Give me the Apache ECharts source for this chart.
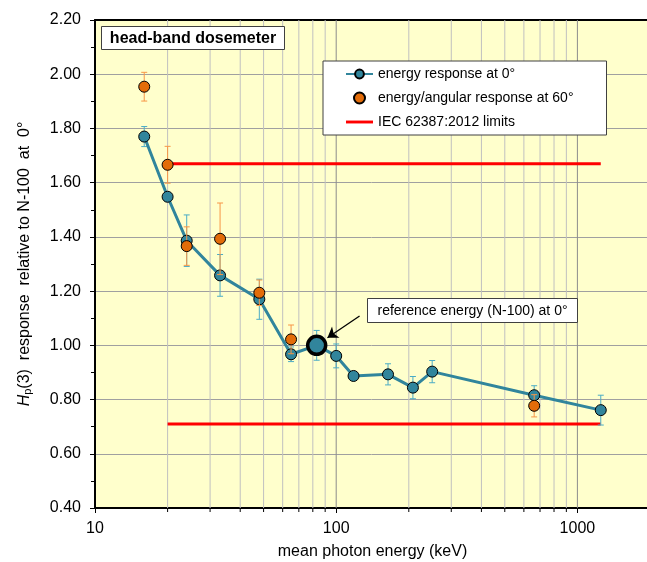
<!DOCTYPE html>
<html><head><meta charset="utf-8">
<script src="https://cdn.jsdelivr.net/npm/echarts@6/dist/echarts.min.js"></script>
<style>html,body{margin:0;padding:0;background:#fff}#c{width:647px;height:562px}</style>
</head><body><div id="c"></div>
<script>
// ---- data ----
const energy0 = [16, 20, 24, 33, 48, 65, 83, 100, 118, 164, 208, 250, 662, 1250];
const response0 = [1.770, 1.548, 1.386, 1.258, 1.170, 0.967, 1.000, 0.961, 0.887, 0.893, 0.844, 0.903, 0.816, 0.761];
const err0 = [0.037, 0.015, 0.095, 0.077, 0.074, 0.027, 0.055, 0.044, 0.015, 0.039, 0.041, 0.041, 0.035, 0.055];
const energy60 = [16, 20, 24, 33, 48, 65, 662];
const response60 = [1.954, 1.666, 1.366, 1.393, 1.194, 1.022, 0.777];
const err60 = [0.053, 0.068, 0.071, 0.132, 0.047, 0.053, 0.041];
const limitEnergies = [20, 1250];
const limitUpper = 1.67;
const limitLower = 0.71;
const refEnergy = 83;
const refLabel = 'reference energy (N-100) at 0°';
const arrowFrom = [125, 1.108];
const arrowTo = [92, 1.028];
const xGridValues = [20, 30, 40, 50, 60, 70, 80, 90, 100, 200, 300, 400, 500, 600, 700, 800, 900, 1000];
const xMajorValues = [10, 100, 1000];
const xMin = 10, xMax = 2000;
const yMin = 0.4, yMax = 2.2, yStep = 0.2;
const seriesNames = ['energy response at 0°', 'energy/angular response at 60°', 'IEC 62387:2012 limits'];

const FONT = '"Liberation Sans", Arial, sans-serif';
const BLUE = '#31859C', BLUE_ERR = '#4BACC6', ORANGE = '#E36C09', ORANGE_ERR = '#F79646';

function errRender(color) {
  return function (params, api) {
    const x = api.value(0);
    const lo = api.coord([x, api.value(1)]);
    const hi = api.coord([x, api.value(2)]);
    const c = 3;
    return {
      type: 'group',
      children: [
        { type: 'line', shape: { x1: lo[0], y1: lo[1], x2: hi[0], y2: hi[1] }, style: { stroke: color, lineWidth: 1 } },
        { type: 'line', shape: { x1: lo[0] - c, y1: lo[1], x2: lo[0] + c, y2: lo[1] }, style: { stroke: color, lineWidth: 1 } },
        { type: 'line', shape: { x1: hi[0] - c, y1: hi[1], x2: hi[0] + c, y2: hi[1] }, style: { stroke: color, lineWidth: 1 } }
      ]
    };
  };
}

const chart = echarts.init(document.getElementById('c'), null, { renderer: 'canvas' });
chart.setOption({
  animation: false,
  textStyle: { fontFamily: FONT },
  grid: { left: 95, top: 20, width: 555, height: 488, show: true, backgroundColor: '#FFFFCC', borderWidth: 0, containLabel: false, outerBoundsMode: 'none' },
  legend: {
    orient: 'vertical', left: 323, top: 61, z: 20,
    data: [
      { name: seriesNames[0] },
      { name: seriesNames[1] },
      { name: seriesNames[2], icon: 'path://M0,0H28V3H0Z' }
    ],
    backgroundColor: '#fff', borderColor: '#404040', borderWidth: 1,
    padding: [6, 33, 6, 22], itemGap: 10, itemWidth: 27, itemHeight: 11,
    textStyle: { fontSize: 14, color: '#000', fontFamily: FONT },
    selectedMode: false
  },
  xAxis: [{
    type: 'log', logBase: 10, min: xMin, max: xMax,
    name: 'mean photon energy (keV)', nameLocation: 'middle', nameGap: 36,
    nameTextStyle: { fontSize: 16, color: '#000', fontFamily: FONT },
    axisLine: { show: true, onZero: false, lineStyle: { color: '#000', width: 2 } },
    axisTick: { show: true, length: 5, lineStyle: { color: '#000' } },
    axisLabel: {
      fontSize: 16, color: '#000', margin: 13, fontFamily: FONT,
      formatter: v => (xMajorValues.indexOf(Math.round(v)) >= 0 ? String(Math.round(v)) : '')
    },
    splitLine: { show: false }
  }, {
    type: 'log', logBase: 10, min: xMin, max: xMax, position: 'top',
    axisLine: { show: true, onZero: false, lineStyle: { color: '#000', width: 2 } },
    axisTick: { show: false }, axisLabel: { show: false }, splitLine: { show: false }
  }],
  yAxis: {
    type: 'value', min: yMin, max: yMax, interval: yStep,
    name: '{i|H}{s|p}{n|(3)  response  relative to N-100  at  0°}',
    nameLocation: 'middle', nameGap: 62, nameRotate: 90,
    nameTextStyle: {
      fontSize: 16, color: '#000', fontFamily: FONT,
      rich: {
        i: { fontStyle: 'italic', fontSize: 16, color: '#000', fontFamily: FONT },
        s: { fontSize: 11, color: '#000', fontFamily: FONT, verticalAlign: 'bottom', padding: [6, 0, 0, 0] },
        n: { fontSize: 16, color: '#000', fontFamily: FONT }
      }
    },
    axisLine: { show: true, onZero: false, lineStyle: { color: '#000', width: 2 } },
    axisTick: { show: true, length: 5, lineStyle: { color: '#000' } },
    minorTick: { show: true, splitNumber: 2, length: 4, lineStyle: { color: '#000' } },
    axisLabel: { fontSize: 16, color: '#000', margin: 14, fontFamily: FONT, formatter: v => v.toFixed(2) },
    splitLine: { show: true, lineStyle: { color: '#A0A0A0', width: 1 } }
  },
  graphic: {
    elements: [
      {
        type: 'group', left: 101, top: 26, z: 100,
        children: [
          { type: 'rect', z: 100, shape: { x: 0, y: 0, width: 183, height: 23 }, style: { fill: '#fff', stroke: '#404040', lineWidth: 1 } },
          { type: 'text', z: 101, x: 91.5, y: 12, style: { text: 'head-band dosemeter', font: 'bold 16px ' + FONT, align: 'center', verticalAlign: 'middle', fill: '#000' } }
        ]
      },
      {
        type: 'group', left: 367, top: 298, z: 100,
        children: [
          { type: 'rect', z: 100, shape: { x: 0, y: 0, width: 210, height: 24 }, style: { fill: '#fff', stroke: '#404040', lineWidth: 1 } },
          { type: 'text', z: 101, x: 105, y: 12.5, style: { text: refLabel, font: '14px ' + FONT, align: 'center', verticalAlign: 'middle', fill: '#000' } }
        ]
      }
    ]
  },
  series: [
    {
      type: 'custom', name: 'grid', silent: true, clip: false, z: 1,
      data: xGridValues.map(v => [v, yMin]),
      renderItem: function (params, api) {
        const v = api.value(0);
        const top = api.coord([v, yMax]);
        const bot = api.coord([v, yMin]);
        const major = xMajorValues.indexOf(v) >= 0;
        const ch = [{ type: 'line', shape: { x1: top[0], y1: top[1], x2: bot[0], y2: bot[1] }, style: { stroke: major ? '#8C8C8C' : '#C0C0C0', lineWidth: 1 } }];
        if (!major) ch.push({ type: 'line', shape: { x1: bot[0], y1: bot[1], x2: bot[0], y2: bot[1] + 4 }, style: { stroke: '#000', lineWidth: 1 } });
        return { type: 'group', children: ch };
      }
    },
    {
      type: 'line', name: seriesNames[2], z: 3, symbol: 'none',
      lineStyle: { color: '#FF0000', width: 3 }, itemStyle: { color: '#FF0000' },
      data: limitEnergies.map(x => [x, limitUpper])
    },
    {
      type: 'line', name: seriesNames[2], z: 3, symbol: 'none',
      lineStyle: { color: '#FF0000', width: 3 }, itemStyle: { color: '#FF0000' },
      data: limitEnergies.map(x => [x, limitLower])
    },
    {
      type: 'custom', name: 'err0', silent: true, z: 4,
      data: energy0.map((x, i) => [x, response0[i] - err0[i], response0[i] + err0[i]]),
      encode: { x: 0, y: [1, 2] },
      renderItem: errRender(BLUE_ERR)
    },
    {
      type: 'line', name: seriesNames[0], z: 5,
      symbol: 'circle', symbolSize: 11,
      lineStyle: { color: BLUE, width: 3 },
      itemStyle: { color: BLUE, borderColor: '#000', borderWidth: 1 },
      data: energy0.map((x, i) => x === refEnergy
        ? { value: [x, response0[i]], symbolSize: 18, itemStyle: { color: BLUE, borderColor: '#000', borderWidth: 3.5 } }
        : [x, response0[i]]),
      markLine: {
        silent: true, symbol: ['none', 'arrow'], symbolSize: 10,
        lineStyle: { color: '#000', width: 1.3, type: 'solid' },
        label: { show: false },
        data: [[{ coord: arrowFrom }, { coord: arrowTo }]]
      }
    },
    {
      type: 'custom', name: 'err60', silent: true, z: 6,
      data: energy60.map((x, i) => [x, response60[i] - err60[i], response60[i] + err60[i]]),
      encode: { x: 0, y: [1, 2] },
      renderItem: errRender(ORANGE_ERR)
    },
    {
      type: 'scatter', name: seriesNames[1], z: 7,
      symbol: 'circle', symbolSize: 11,
      itemStyle: { color: ORANGE, borderColor: '#000', borderWidth: 1, opacity: 1 },
      data: energy60.map((x, i) => [x, response60[i]])
    }
  ]
});
</script>
</body></html>
